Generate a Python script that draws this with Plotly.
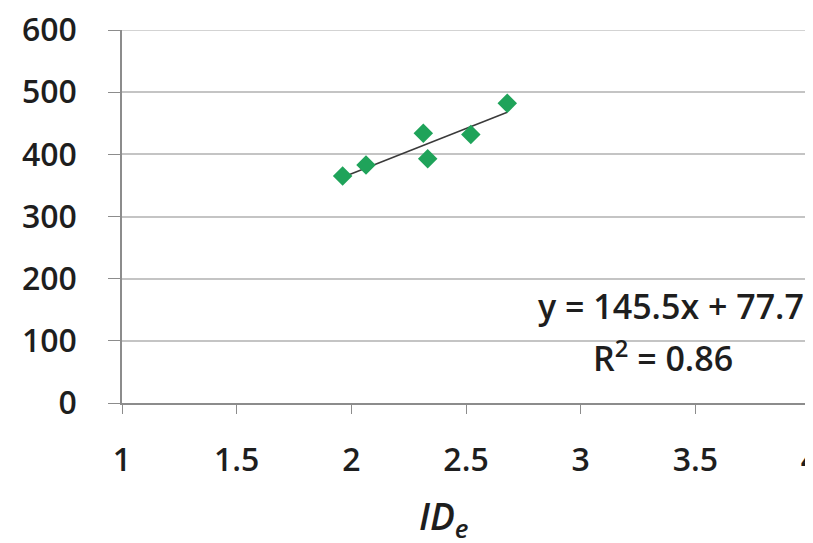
import plotly.graph_objects as go

# Data
id_e = [1.962, 2.064, 2.314, 2.333, 2.521, 2.68]
mt = [365, 383, 434, 393, 432, 482]
slope = 145.5
intercept = 77.7
r2 = 0.86
x_ticks = [1, 1.5, 2, 2.5, 3, 3.5, 4]
x_tick_labels = ["1", "1.5", "2", "2.5", "3", "3.5", "4"]
y_ticks = [0, 100, 200, 300, 400, 500, 600]

trend_x = [min(id_e), max(id_e)]
trend_y = [slope * v + intercept for v in trend_x]

FONT = "Open Sans"
TXT = "#1e1e1e"
GRID = "#c4c4c4"
AXIS = "#8c8c8c"
OFF = 8  # page body margin
W, H = 813 - OFF, 543 - OFF
L, T = 122 - OFF, 30 - OFF
R = W - (810 - OFF)
B = H - (403 - OFF)
PW, PH = W - L - R, H - T - B

fig = go.Figure()
fig.add_trace(go.Scatter(x=trend_x, y=trend_y, mode="lines",
                         line=dict(color="#3a3a3a", width=1.5), showlegend=False))
fig.add_trace(go.Scatter(x=id_e, y=mt, mode="markers",
                         marker=dict(symbol="diamond", size=15, color="#1fa35a"),
                         showlegend=False))

tick_font = dict(size=32, family=FONT, color=TXT, weight=600)

fig.update_layout(
    width=W, height=H,
    margin=dict(l=L, r=R, t=T, b=B),
    paper_bgcolor="white", plot_bgcolor="white",
    font=dict(family=FONT, size=32, color=TXT),
    xaxis=dict(range=[1, 4], tickvals=x_ticks, ticktext=x_tick_labels,
               showgrid=False, zeroline=False, showline=True, linecolor=AXIS,
               linewidth=1.5, ticks="outside", ticklen=9, tickcolor=AXIS,
               tickfont=tick_font, automargin=False, ticklabelstandoff=19,
               ticklabeloverflow="allow"),
    yaxis=dict(range=[0, 600], tickvals=y_ticks, showgrid=True, gridcolor=GRID,
               gridwidth=1.5, zeroline=False, showline=True, linecolor=AXIS,
               linewidth=1.5, ticks="outside", ticklen=12, tickcolor=AXIS,
               tickfont=tick_font, automargin=False, ticklabelstandoff=25,
               ticklabeloverflow="allow"),
)

# top gridline (plotly hides the gridline at the range edge)
fig.add_shape(type="line", xref="paper", yref="y", x0=0, x1=1,
              y0=y_ticks[-1], y1=y_ticks[-1], line=dict(color=GRID, width=1.5),
              layer="below")

def px(xs):
    return (xs - OFF - L) / PW

def py(ys):
    return (H - B - (ys - OFF)) / PH

ann_font = dict(size=34, family=FONT, color=TXT, weight=600)
fig.add_annotation(xref="paper", yref="paper", x=px(806), y=py(306),
                   text=f"y = {slope}x + {intercept}", showarrow=False,
                   xanchor="right", yanchor="middle", font=ann_font)
fig.add_annotation(xref="paper", yref="paper", x=px(663), y=py(356),
                   text=f"R<sup>2</sup> = {r2}", showarrow=False,
                   xanchor="center", yanchor="middle", font=ann_font)
fig.add_annotation(xref="paper", yref="paper", x=px(443), y=py(518),
                   text="<i>ID<sub>e</sub></i>", showarrow=False,
                   xanchor="center", yanchor="middle",
                   font=dict(size=37, family=FONT, color=TXT, weight=600))

fig.write_html("out.html")
